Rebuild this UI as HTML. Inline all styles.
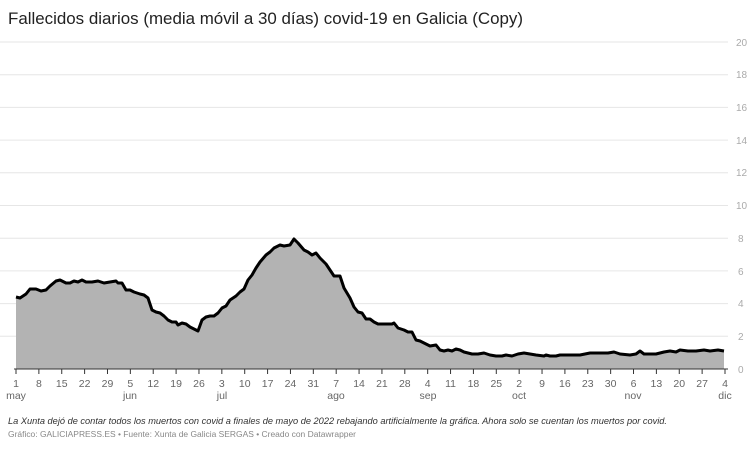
<!DOCTYPE html>
<html><head><meta charset="utf-8"><style>
body{margin:0;background:#fff;font-family:"Liberation Sans",sans-serif;}
</style></head><body>
<svg width="756" height="447" xmlns="http://www.w3.org/2000/svg" font-family="Liberation Sans, sans-serif">
<text x="8" y="24" font-size="17" fill="#222" textLength="515" lengthAdjust="spacingAndGlyphs">Fallecidos diarios (media móvil a 30 días) covid-19 en Galicia (Copy)</text>
<g stroke="#e6e6e6" stroke-width="1">
<line x1="0" x2="728" y1="42" y2="42"/><line x1="0" x2="728" y1="74.7" y2="74.7"/><line x1="0" x2="728" y1="107.4" y2="107.4"/><line x1="0" x2="728" y1="140.1" y2="140.1"/><line x1="0" x2="728" y1="172.8" y2="172.8"/><line x1="0" x2="728" y1="205.5" y2="205.5"/><line x1="0" x2="728" y1="238.2" y2="238.2"/><line x1="0" x2="728" y1="270.9" y2="270.9"/><line x1="0" x2="728" y1="303.6" y2="303.6"/><line x1="0" x2="728" y1="336.3" y2="336.3"/>
</g>
<g font-size="10" fill="#aaa" text-anchor="start">
<text x="736" y="46">20</text><text x="736" y="78">18</text><text x="736" y="111">16</text><text x="736" y="144">14</text><text x="736" y="176">12</text><text x="736" y="209">10</text><text x="738" y="242">8</text><text x="738" y="275">6</text><text x="738" y="307">4</text><text x="738" y="340">2</text><text x="738" y="373">0</text>
</g>
<polygon fill="#b3b3b3" points="16,369 16,297 20,298 26,294 30,289 36,289 41,291 46,290 50,286 56,281 60,280 66,283 70,283 74,281 78,282 82,280 86,282 92,282 98,281 104,283 110,282 116,281 118,283 122,283 126,290 130,290 134,292 140,294 144,295 148,298 152,310 156,312 160,313 164,316 168,320 172,322 176,322 178,325 182,323 186,324 190,327 196,330 198,331 202,320 206,317 210,316 214,316 218,313 222,308 226,306 230,300 236,296 240,292 244,289 248,280 252,275 256,268 260,262 266,255 270,252 274,248 280,245 284,246 290,245 294,239 298,243 304,250 308,252 312,255 316,253 320,258 326,264 330,270 334,276 340,276 344,288 350,298 354,307 358,312 362,313 366,319 370,319 374,322 378,324 386,324 392,324 394,323 398,328 404,330 408,332 412,332 416,340 420,341 426,344 430,346 436,345 440,350 444,351 448,350 452,351 456,349 460,350 464,352 468,353 472,354 478,354 484,353 490,355 496,356 502,356 506,355 512,356 518,354 524,353 530,354 536,355 544,356 546,355 550,356 556,356 560,355 566,355 576,355 580,355 590,353 600,353 608,353 614,352 620,354 630,355 636,354 640,351 644,354 656,354 664,352 670,351 676,352 680,350 688,351 696,351 704,350 710,351 718,350 724,351 724,369"/>
<polyline fill="none" stroke="#000" stroke-width="3" stroke-linejoin="round" points="16,297 20,298 26,294 30,289 36,289 41,291 46,290 50,286 56,281 60,280 66,283 70,283 74,281 78,282 82,280 86,282 92,282 98,281 104,283 110,282 116,281 118,283 122,283 126,290 130,290 134,292 140,294 144,295 148,298 152,310 156,312 160,313 164,316 168,320 172,322 176,322 178,325 182,323 186,324 190,327 196,330 198,331 202,320 206,317 210,316 214,316 218,313 222,308 226,306 230,300 236,296 240,292 244,289 248,280 252,275 256,268 260,262 266,255 270,252 274,248 280,245 284,246 290,245 294,239 298,243 304,250 308,252 312,255 316,253 320,258 326,264 330,270 334,276 340,276 344,288 350,298 354,307 358,312 362,313 366,319 370,319 374,322 378,324 386,324 392,324 394,323 398,328 404,330 408,332 412,332 416,340 420,341 426,344 430,346 436,345 440,350 444,351 448,350 452,351 456,349 460,350 464,352 468,353 472,354 478,354 484,353 490,355 496,356 502,356 506,355 512,356 518,354 524,353 530,354 536,355 544,356 546,355 550,356 556,356 560,355 566,355 576,355 580,355 590,353 600,353 608,353 614,352 620,354 630,355 636,354 640,351 644,354 656,354 664,352 670,351 676,352 680,350 688,351 696,351 704,350 710,351 718,350 724,351"/>
<line x1="14" x2="728" y1="369" y2="369" stroke="#333" stroke-width="1"/>
<g id="ticks" stroke="#333" stroke-width="1"></g>
<g id="tl" font-size="10.5" fill="#666" text-anchor="middle"></g>
<g font-size="10.5" fill="#666" text-anchor="middle">
<text x="16" y="399">may</text><text x="130" y="399">jun</text><text x="222" y="399">jul</text><text x="336" y="399">ago</text><text x="428" y="399">sep</text><text x="519" y="399">oct</text><text x="633" y="399">nov</text><text x="725" y="399">dic</text>
</g>
<text x="8" y="424" font-size="9.5" font-style="italic" fill="#333" textLength="659" lengthAdjust="spacingAndGlyphs">La Xunta dejó de contar todos los muertos con covid a finales de mayo de 2022 rebajando artificialmente la gráfica. Ahora solo se cuentan los muertos por covid.</text>
<text x="8" y="437" font-size="8.7" fill="#888" textLength="348" lengthAdjust="spacingAndGlyphs">Gráfico: GALICIAPRESS.ES • Fuente: Xunta de Galicia SERGAS • Creado con Datawrapper</text>
</svg>
<script>
var labs="1 8 15 22 29 5 12 19 26 3 10 17 24 31 7 14 21 28 4 11 18 25 2 9 16 23 30 6 13 20 27 4".split(" ");
var t=document.getElementById("ticks"),l=document.getElementById("tl"),ns="http://www.w3.org/2000/svg";
labs.forEach(function(s,i){var x=16+i*(709/31);
var ln=document.createElementNS(ns,"line");ln.setAttribute("x1",x);ln.setAttribute("x2",x);ln.setAttribute("y1",369);ln.setAttribute("y2",374);t.appendChild(ln);
var tx=document.createElementNS(ns,"text");tx.setAttribute("x",x);tx.setAttribute("y",387);tx.textContent=s;l.appendChild(tx);});
</script>
</body></html>
